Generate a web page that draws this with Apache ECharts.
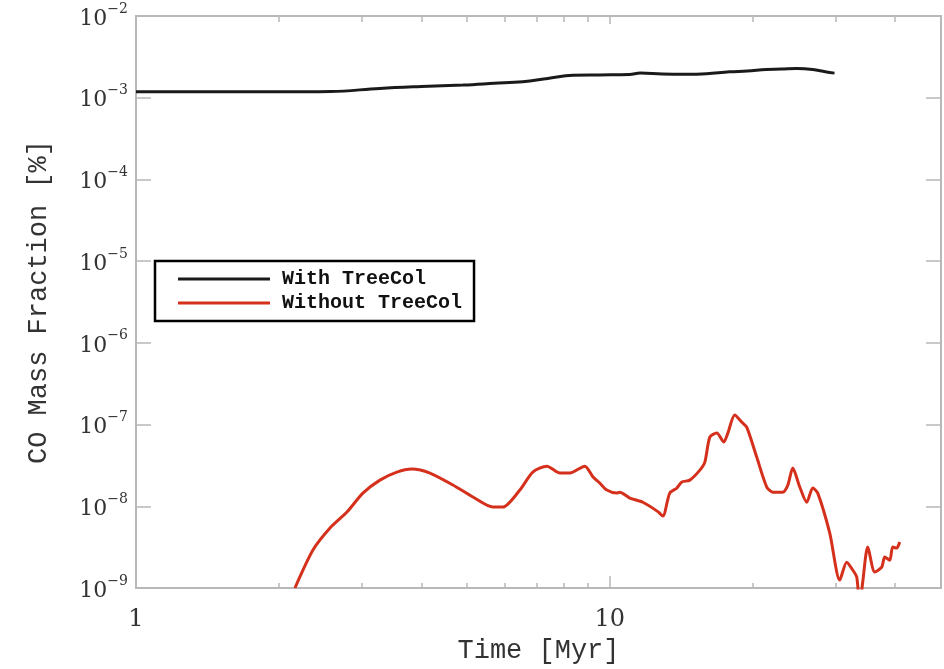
<!DOCTYPE html>
<html><head><meta charset="utf-8">
<script src="https://cdn.jsdelivr.net/npm/echarts@6/dist/echarts.min.js"></script>
<style>html,body{margin:0;padding:0;background:#fff}#c{width:944px;height:669px}</style>
</head><body><div id="c"></div>
<script>
const seriesNames = ['With TreeCol', 'Without TreeCol'];
const withTime = [1, 1.6, 2.0, 2.57, 3.27, 4.0, 4.9, 5.7, 6.55, 7.4, 8.36, 9.5, 11.0, 11.6, 12.9, 14.5, 16.0, 17.9, 19.5, 21.4, 23.0, 24.8, 26.8, 28.5, 29.8];
const withValue = [1.18e-3, 1.18e-3, 1.18e-3, 1.19e-3, 1.3e-3, 1.37e-3, 1.43e-3, 1.5e-3, 1.57e-3, 1.72e-3, 1.88e-3, 1.9e-3, 1.92e-3, 2.0e-3, 1.95e-3, 1.94e-3, 1.97e-3, 2.08e-3, 2.12e-3, 2.22e-3, 2.24e-3, 2.28e-3, 2.22e-3, 2.08e-3, 2.0e-3];
const withoutTime = [2.165, 2.363, 2.567, 2.787, 3.012, 3.272, 3.553, 3.823, 4.172, 4.665, 5.140, 5.666, 5.948, 6.458, 6.879, 7.364, 7.845, 8.235, 8.857, 9.207, 9.526, 9.856, 10.34, 10.50, 11.02, 11.74, 12.63, 12.94, 13.38, 13.85, 14.19, 14.75, 15.49, 15.87, 16.26, 16.82, 17.40, 17.74, 18.35, 18.99, 19.45, 20.42, 21.44, 22.08, 23.17, 23.74, 24.33, 25.17, 26.04, 26.81, 27.47, 29.12, 30.57, 31.62, 32.56, 33.20, 33.69, 34.19, 35.03, 36.24, 37.49, 38.04, 38.98, 39.54, 40.32, 40.91];
const withoutValue = [1.0e-9, 2.91e-9, 5.41e-9, 8.49e-9, 1.45e-8, 2.09e-8, 2.62e-8, 2.85e-8, 2.55e-8, 1.82e-8, 1.30e-8, 9.78e-9, 9.78e-9, 1.58e-8, 2.62e-8, 3.10e-8, 2.55e-8, 2.55e-8, 3.10e-8, 2.3e-8, 1.92e-8, 1.58e-8, 1.45e-8, 1.49e-8, 1.26e-8, 1.12e-8, 8.6e-9, 7.59e-9, 1.45e-8, 1.67e-8, 1.98e-8, 2.09e-8, 2.77e-8, 3.47e-8, 7.03e-8, 7.87e-8, 6.11e-8, 7.8e-8, 1.31e-7, 1.07e-7, 9.31e-8, 4.00e-8, 1.72e-8, 1.49e-8, 1.49e-8, 1.8e-8, 2.94e-8, 1.72e-8, 1.12e-8, 1.67e-8, 1.45e-8, 4.70e-9, 1.25e-9, 2.07e-9, 1.66e-9, 1.36e-9, 6.0e-10, 1.2e-9, 3.17e-9, 1.57e-9, 1.80e-9, 2.39e-9, 2.19e-9, 3.17e-9, 3.08e-9, 3.65e-9];
const xMajorTicks = [1, 10];
const xMinorTicks = [2, 3, 4, 5, 6, 7, 8, 9, 20, 30, 40];
const yTicks = [1e-9, 1e-8, 1e-7, 1e-6, 1e-5, 1e-4, 1e-3, 1e-2];
const xName = 'Time [Myr]';
const yName = 'CO Mass Fraction [%]';

const frame = '#b8b8b8';
const xRange = {min: 1, max: 50};
const yRange = {min: 1e-9, max: 1e-2};

function xAxisDef(pos, ticks, len, labels) {
  return {
    type: 'log', logBase: 10, gridIndex: 0, position: pos, min: xRange.min, max: xRange.max,
    axisLine: {show: true, onZero: false, lineStyle: {color: frame, width: 2}},
    axisTick: {show: true, inside: true, length: len, customValues: ticks, lineStyle: {color: frame, width: 1.5}},
    axisLabel: labels ? {show: true, customValues: xMajorTicks, margin: 20, color: '#333', fontFamily: 'DejaVu Serif', fontSize: 24} : {show: false},
    splitLine: {show: false}, minorTick: {show: false}
  };
}
function yAxisDef(pos, labels) {
  return {
    type: 'log', logBase: 10, gridIndex: 0, position: pos, min: yRange.min, max: yRange.max,
    axisLine: {show: true, onZero: false, lineStyle: {color: frame, width: 2}},
    axisTick: {show: true, inside: true, length: 15, customValues: yTicks, lineStyle: {color: frame, width: 1.5}},
    axisLabel: labels ? {
      show: true, customValues: yTicks, margin: 8,
      formatter: function (v) { const e = Math.round(Math.log10(v)); return '{b|10}{s|\u2212' + Math.abs(e) + '}'; },
      rich: {
        b: {fontFamily: 'DejaVu Serif', fontSize: 22, color: '#333', lineHeight: 28, verticalAlign: 'bottom'},
        s: {fontFamily: 'DejaVu Serif', fontSize: 14, color: '#333', verticalAlign: 'top', lineHeight: 28}
      }
    } : {show: false},
    splitLine: {show: false}
  };
}

const xAxes = [xAxisDef('bottom', xMajorTicks, 12, true), xAxisDef('bottom', xMinorTicks, 5, false),
               xAxisDef('top', xMajorTicks, 8, false), xAxisDef('top', xMinorTicks, 6, false)];
xAxes[0].name = xName;
xAxes[0].nameLocation = 'middle';
xAxes[0].nameGap = 49;
xAxes[0].nameTextStyle = {fontFamily: 'Liberation Mono', fontSize: 27, color: '#333'};
const yAxes = [yAxisDef('left', true), yAxisDef('right', false)];
yAxes[0].name = yName;
yAxes[0].nameLocation = 'middle';
yAxes[0].nameGap = 84;
yAxes[0].nameTextStyle = {fontFamily: 'Liberation Mono', fontSize: 27, color: '#333'};

const chart = echarts.init(document.getElementById('c'));
chart.setOption({
  animation: false,
  backgroundColor: '#fff',
  grid: {left: 136, right: 3, top: 16, bottom: 81, containLabel: false},
  xAxis: xAxes,
  yAxis: yAxes,
  legend: {
    orient: 'vertical', left: 155, top: 261,
    data: seriesNames, icon: 'rect', itemWidth: 92, itemHeight: 3, itemGap: 4,
    padding: [8, 12, 8, 23], borderColor: '#000', borderWidth: 2.5, borderRadius: 0,
    textStyle: {fontFamily: 'Liberation Mono', fontWeight: 'bold', fontSize: 20, color: '#111', lineHeight: 20, padding: [0, 0, 0, 7]}
  },
  series: [
    {name: seriesNames[0], type: 'line', xAxisIndex: 0, yAxisIndex: 0, showSymbol: false, symbol: 'none', smooth: 0.4,
     color: '#1a1a1a', lineStyle: {color: '#1a1a1a', width: 3},
     data: withTime.map((t, i) => [t, withValue[i]])},
    {name: seriesNames[1], type: 'line', xAxisIndex: 0, yAxisIndex: 0, showSymbol: false, symbol: 'none', smooth: 0.25,
     color: '#d4301c', lineStyle: {color: '#d4301c', width: 3},
     data: withoutTime.map((t, i) => [t, withoutValue[i]])}
  ]
});
</script></body></html>
